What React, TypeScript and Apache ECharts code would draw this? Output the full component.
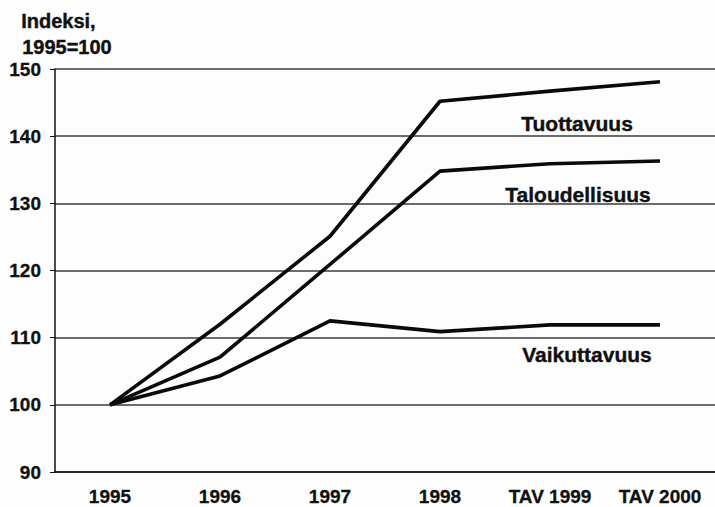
import React, { useEffect, useRef } from "react";
import * as echarts from "echarts";

const categories = ["1995", "1996", "1997", "1998", "TAV 1999", "TAV 2000"];
const tuottavuus = [100, 112, 125.1, 145.2, 146.7, 148.1];
const taloudellisuus = [100, 107.1, 120.9, 134.8, 135.9, 136.3];
const vaikuttavuus = [100, 104.3, 112.5, 110.9, 111.9, 111.9];
const yTicks = { min: 90, max: 150, interval: 10 };
const axisTitle = ["Indeksi,", "1995=100"];
const seriesNames = ["Tuottavuus", "Taloudellisuus", "Vaikuttavuus"];

const FONT = "'Liberation Sans', Arial, sans-serif";

export default function App() {
  const ref = useRef<HTMLDivElement>(null);
  useEffect(() => {
    document.body.style.margin = "0";
    const chart = echarts.init(ref.current!, null, { renderer: "svg" });
    const titleStyle = { fontFamily: FONT, fontWeight: "bold" as const, fontSize: 20, fill: "#111", stroke: "#111", lineWidth: 0.4 };
    const labelStyle = { fontFamily: FONT, fontWeight: "bold" as const, fontSize: 21, fill: "#111", stroke: "#111", lineWidth: 0.4 };
    const lineSeries = (name: string, data: number[]) => ({
      name,
      type: "line",
      data,
      symbol: "none",
      lineStyle: { color: "#0a0a0a", width: 3.6 },
      z: 5,
    });
    chart.setOption({
      animation: false,
      backgroundColor: "#fdfdfd",
      grid: { left: 55, right: 0, top: 69, bottom: 35 },
      xAxis: {
        type: "category",
        data: categories,
        boundaryGap: true,
        axisLine: { lineStyle: { color: "#111", width: 1.5 } },
        axisTick: { inside: true, length: 5, lineStyle: { color: "#111", width: 1 } },
        axisLabel: { fontFamily: FONT, fontWeight: "bold", fontSize: 19, color: "#111", margin: 15, textBorderColor: "#111", textBorderWidth: 0.3 },
      },
      yAxis: {
        type: "value",
        min: yTicks.min,
        max: yTicks.max,
        interval: yTicks.interval,
        axisLine: { show: true, lineStyle: { color: "#111", width: 1.5 } },
        axisTick: { show: true, length: 5, lineStyle: { color: "#111", width: 1 } },
        axisLabel: { fontFamily: FONT, fontWeight: "bold", fontSize: 19, color: "#111", margin: 14, textBorderColor: "#111", textBorderWidth: 0.3 },
        splitLine: { show: true, lineStyle: { color: "#3a3a3a", width: 1.5 } },
      },
      series: [
        lineSeries(seriesNames[0], tuottavuus),
        lineSeries(seriesNames[1], taloudellisuus),
        lineSeries(seriesNames[2], vaikuttavuus),
      ],
      graphic: [
        { type: "text", left: 21, top: 11, style: { ...titleStyle, text: axisTitle[0] } },
        { type: "text", left: 22, top: 37, style: { ...titleStyle, text: axisTitle[1] } },
        { type: "text", x: 577, y: 123, style: { ...labelStyle, text: seriesNames[0], align: "center", verticalAlign: "middle" } },
        { type: "text", x: 578, y: 194, style: { ...labelStyle, text: seriesNames[1], align: "center", verticalAlign: "middle" } },
        { type: "text", x: 587, y: 354, style: { ...labelStyle, text: seriesNames[2], align: "center", verticalAlign: "middle" } },
      ],
    });
    return () => chart.dispose();
  }, []);
  return <div ref={ref} style={{ width: 715, height: 507 }} />;
}
